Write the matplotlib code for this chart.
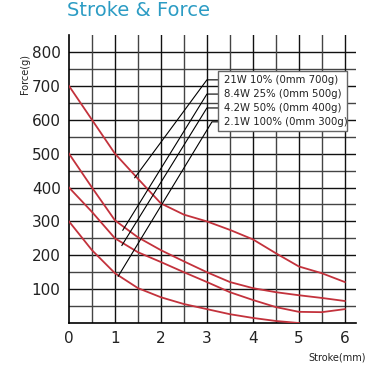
"""Stroke & force curves for a solenoid at four duty settings."""

import matplotlib

matplotlib.use("Agg")
import matplotlib.pyplot as plt
import numpy as np

STROKE = [0, 0.5, 1, 1.5, 2, 2.5, 3, 3.5, 4, 4.5, 5, 5.5, 6]
FORCE_700 = [700, 600, 500, 426, 353, 320, 300, 275, 247, 206, 167, 147, 121]
FORCE_500 = [500, 400, 303, 253, 215, 182, 150, 121, 103, 91, 82, 74, 65]
FORCE_400 = [400, 328, 250, 209, 180, 150, 121, 91, 68, 47, 33, 32, 41]
STROKE_300 = [0, 0.5, 1, 1.5, 2, 2.5, 3, 3.5, 4, 4.5, 5]
FORCE_300 = [300, 215, 147, 103, 76, 56, 41, 26, 15, 6, 0]

LABELS = [
    "21W 10% (0mm 700g)",
    "8.4W 25% (0mm 500g)",
    "4.2W 50% (0mm 400g)",
    "2.1W 100% (0mm 300g)",
]
# leader lines: (curve end x, y) -> (knee x, y) -> box edge
LEADER_LOW = [(1.43, 429), (1.17, 274), (1.15, 229), (1.07, 138)]
LEADER_KNEE = [(3.0, 718), (3.0, 676), (3.0, 635), (3.11, 594)]

RED = "#c3323c"

fig = plt.figure(figsize=(3.73, 3.70), dpi=100)
ax = fig.add_axes([0.185, 0.127, 0.769, 0.778])
xmax, ymax = 6.24, 850
ax.set_xlim(0, xmax)
ax.set_ylim(0, ymax)

# grid drawn by hand: horizontal every 50 g, vertical every 0.5 mm
for y in np.arange(50, 801, 50):
    ax.axhline(y, color="#111111" if y % 100 == 0 else "#444444", lw=1.0, zorder=1)
for x in np.arange(0.5, 6.01, 0.5):
    ax.axvline(x, color="#111111" if x % 1 == 0 else "#444444", lw=1.0, zorder=1)

for xs, ys in [(STROKE, FORCE_700), (STROKE, FORCE_500), (STROKE, FORCE_400), (STROKE_300, FORCE_300)]:
    ax.plot(xs, ys, color=RED, lw=1.3, zorder=3)

box_x = 3.24
for (x0, y0), (x1, y1) in zip(LEADER_LOW, LEADER_KNEE):
    ax.plot([x0, x1, box_x], [y0, y1, y1], color="black", lw=0.8, zorder=4)

ax.add_patch(
    plt.Rectangle((box_x, 568), 6.04 - box_x, 744 - 568, facecolor="white",
                  edgecolor="#666666", lw=1.0, zorder=5)
)
for (_, y), label in zip(LEADER_KNEE, LABELS):
    ax.text(box_x + 0.13, y, label, fontsize=7.3, va="center", ha="left",
            color="#222222", zorder=6)

ax.set_xticks(range(7))
ax.set_yticks(range(100, 801, 100))
ax.tick_params(length=0, labelsize=11, colors="#222222", pad=6)
for s in ["top", "right"]:
    ax.spines[s].set_visible(False)
for s in ["left", "bottom"]:
    ax.spines[s].set_color("black")
    ax.spines[s].set_linewidth(1.2)

fig.text(0.067, 0.8, "Force(g)", rotation=90, fontsize=7, ha="center", va="center", color="#222222")
fig.text(0.905, 0.035, "Stroke(mm)", fontsize=7, ha="center", va="center", color="#222222")
fig.text(0.18, 0.972, "Stroke & Force", fontsize=14, ha="left", va="center", color="#2c9cc4")

fig.savefig("out.png")
